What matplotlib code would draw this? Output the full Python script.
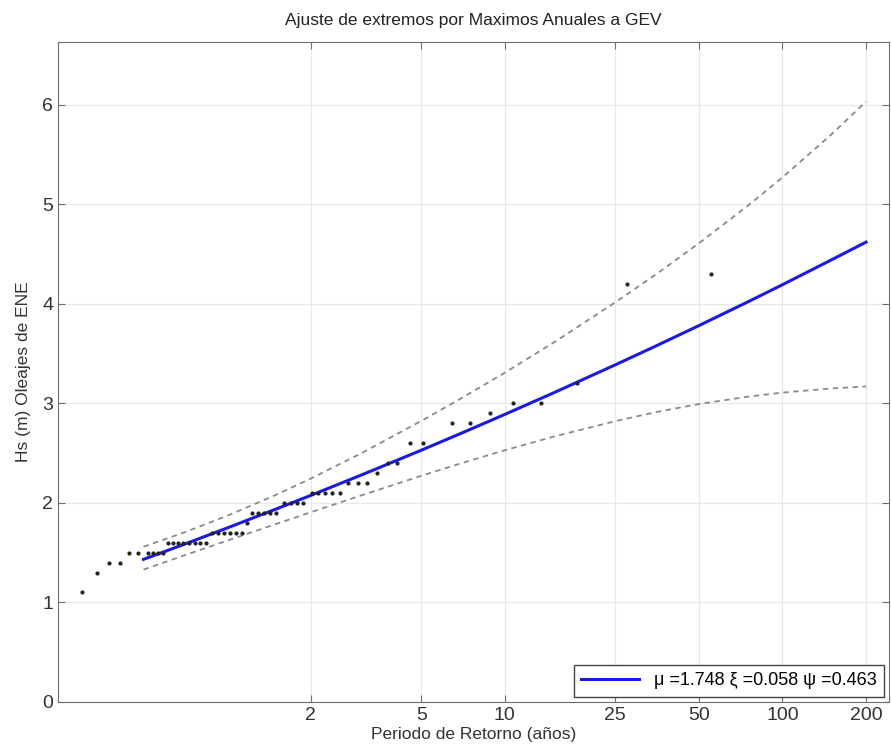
import matplotlib
matplotlib.use("Agg")
import matplotlib.pyplot as plt

# puntos empiricos (periodo de retorno, Hs)
t_obs = [0.299, 0.340, 0.377, 0.411, 0.444, 0.479,
         0.519, 0.541, 0.564, 0.588, 0.612, 0.638, 0.665, 0.693, 0.730, 0.766,
         0.798, 0.840, 0.881, 0.927, 0.975, 1.023, 1.077, 1.130, 1.179, 1.230,
         1.291, 1.358, 1.426, 1.500, 1.601, 1.698, 1.785, 1.876, 2.022, 2.124,
         2.252, 2.386, 2.550, 2.726, 2.960, 3.190, 3.466, 3.798, 4.092, 4.558,
         5.078, 6.456, 7.498, 8.850, 10.71, 13.51, 18.21, 27.58, 55.34]
hs_obs = [1.1, 1.3, 1.4, 1.4, 1.5, 1.5,
          1.5, 1.5, 1.5, 1.5, 1.6, 1.6, 1.6, 1.6, 1.6, 1.6,
          1.6, 1.6, 1.7, 1.7, 1.7, 1.7, 1.7, 1.7, 1.8, 1.9,
          1.9, 1.9, 1.9, 1.9, 2.0, 2.0, 2.0, 2.0, 2.1, 2.1,
          2.1, 2.1, 2.1, 2.2, 2.2, 2.2, 2.3, 2.4, 2.4, 2.6,
          2.6, 2.8, 2.8, 2.9, 3.0, 3.0, 3.2, 4.2, 4.3]

# ajuste GEV y bandas de confianza
t_fit = [0.5, 0.7, 1, 1.5, 2, 3, 5, 7, 10, 15, 25, 35, 50, 75, 100, 150, 200]
hs_fit = [1.433, 1.584, 1.748, 1.938, 2.075, 2.273, 2.529, 2.702, 2.889, 3.106,
          3.387, 3.576, 3.781, 4.019, 4.192, 4.441, 4.620]
hs_sup = [1.560, 1.703, 1.870, 2.081, 2.244, 2.490, 2.823, 3.054, 3.308, 3.611,
          4.015, 4.295, 4.608, 4.985, 5.270, 5.701, 6.032]
hs_inf = [1.330, 1.472, 1.621, 1.788, 1.906, 2.070, 2.272, 2.400, 2.529, 2.666,
          2.821, 2.912, 2.993, 3.067, 3.108, 3.150, 3.170]

x_ticks = [2, 5, 10, 25, 50, 100, 200]
y_ticks = [0, 1, 2, 3, 4, 5, 6]
leyenda = "μ =1.748 ξ =0.058 ψ =0.463"

plt.rcParams['font.family'] = ['Liberation Sans', 'DejaVu Sans']

fig = plt.figure(figsize=(8.91, 7.5), dpi=100)
ax = fig.add_axes([0.0651, 0.064, 0.9327, 0.880])

ax.plot(t_fit, hs_sup, '--', color='#8a8a8a', lw=1.3, dashes=(3, 2.5))
ax.plot(t_fit, hs_inf, '--', color='#8a8a8a', lw=1.3, dashes=(3, 2.5))
linea, = ax.plot(t_fit, hs_fit, color='#1a1ae6', lw=2.2)
ax.plot(t_obs, hs_obs, '.', color='#222222', ms=4)

ax.set_xscale('log')
ax.set_xlim(0.246, 242)
ax.set_ylim(0, 6.63)
ax.set_xticks(x_ticks)
ax.set_xticklabels([str(v) for v in x_ticks])
ax.xaxis.set_minor_locator(matplotlib.ticker.NullLocator())
ax.set_yticks(y_ticks)

ax.grid(True, color='#e8e8e8', lw=0.9)
ax.set_axisbelow(True)
for s in ax.spines.values():
    s.set_color('#6e6e6e')
ax.tick_params(direction='in', length=5, top=True, right=True,
               labelsize=14, colors='#6e6e6e', labelcolor='#333333')

ax.set_title("Ajuste de extremos por Maximos Anuales a GEV", fontsize=12.5,
             color='#222222', pad=12)
ax.set_xlabel("Periodo de Retorno (años)", fontsize=12.5, color='#333333', labelpad=2)
ax.set_ylabel("Hs (m) Oleajes de ENE", fontsize=12.5, color='#333333', labelpad=8)

leg = ax.legend([linea], [leyenda], loc='lower right', fontsize=13,
                fancybox=False, edgecolor='#444444', framealpha=1,
                handlelength=3.2, borderaxespad=0.3, borderpad=0.4)
leg.get_frame().set_linewidth(1.0)

fig.savefig("out.png", dpi=100)
